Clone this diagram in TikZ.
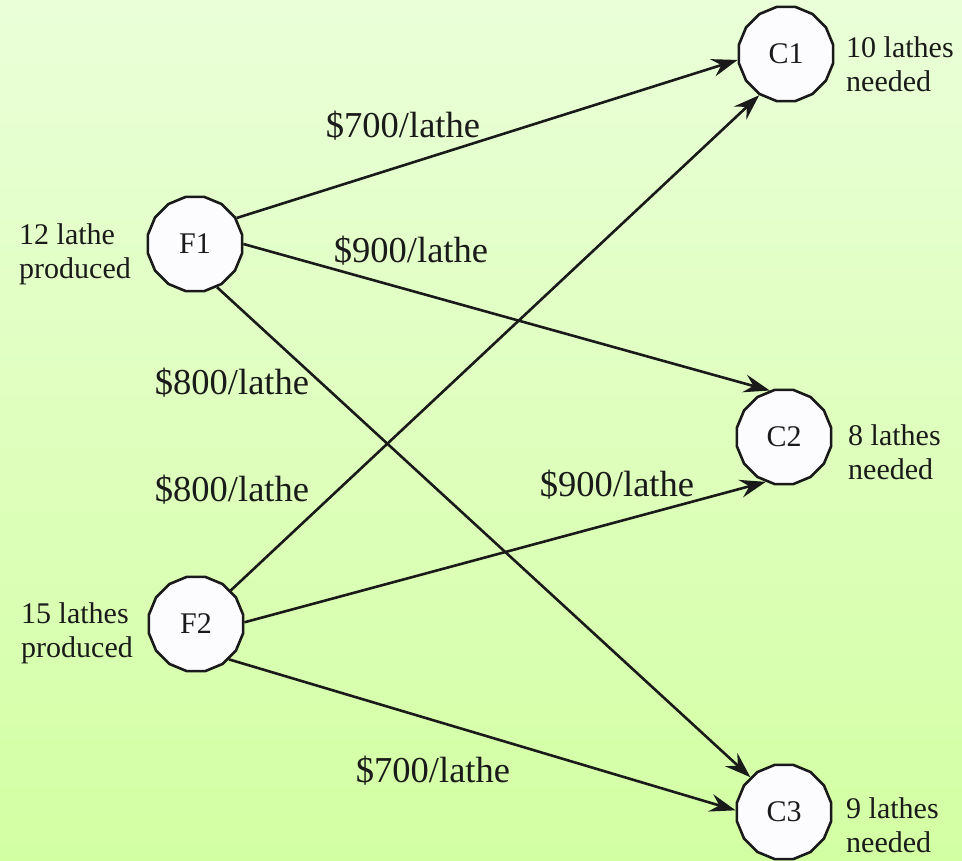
\documentclass[tikz,border=0pt]{standalone}
\usepackage{fontspec}
\setmainfont{Liberation Serif}
\usetikzlibrary{shapes.geometric,arrows.meta}
\definecolor{bgtop}{RGB}{234,255,216}
\definecolor{bgbot}{RGB}{211,255,163}
\definecolor{nodefill}{RGB}{252,252,255}
\definecolor{ink}{RGB}{26,26,26}
\tikzset{
  site/.style={regular polygon, regular polygon sides=16, minimum size=96pt, inner sep=0pt,
    draw=ink, line width=2.6pt, fill=nodefill, font=\fontsize{30}{34}\selectfont, text=ink},
  cost/.style={inner sep=0pt, font=\fontsize{36.5}{40}\selectfont, text=ink},
  note/.style={inner sep=0pt, anchor=west, align=left, font=\fontsize{30}{34}\selectfont, text=ink},
  route/.style={draw=ink, line width=2.6pt, -{Stealth[length=26pt,width=18pt,inset=9pt]}},
}
\begin{document}
\begin{tikzpicture}[x=1pt,y=-1pt]
\useasboundingbox (0,0) rectangle (962,861);
\shade[top color=bgtop, bottom color=bgbot] (0,0) rectangle (962,861);

\node[site] (F1) at (195,244) {F1};
\node[site] (F2) at (196,624) {F2};
\node[site] (C1) at (786,54) {C1};
\node[site] (C2) at (784,437) {C2};
\node[site] (C3) at (784,812) {C3};

\draw[route] (F1.32) -- (C1.187);
\draw[route] (F1.0) -- (C2.107);
\draw[route] (F1.-63) -- (C3.134);
\draw[route] (F2.44) -- (C1.237);
\draw[route] (F2.2) -- (C2.248);
\draw[route] (F2.-47) -- (C3.178);

\node[cost] (k1) at (403,126) {\$700/lathe};
\node[cost] (k2) at (411,251) {\$900/lathe};
\node[cost] (k3) at (232,383) {\$800/lathe};
\node[cost] (k4) at (232,490) {\$800/lathe};
\node[cost] (k5) at (617,485) {\$900/lathe};
\node[cost] (k6) at (433,771) {\$700/lathe};

\node[note] (s1) at (19,254) {12 lathe\\produced};
\node[note] (s2) at (21,633) {15 lathes\\produced};
\node[note] (d1) at (846,64) {10 lathes\\needed};
\node[note] (d2) at (848,452) {8 lathes\\needed};
\node[note] (d3) at (846,825) {9 lathes\\needed};
\end{tikzpicture}
\end{document}
